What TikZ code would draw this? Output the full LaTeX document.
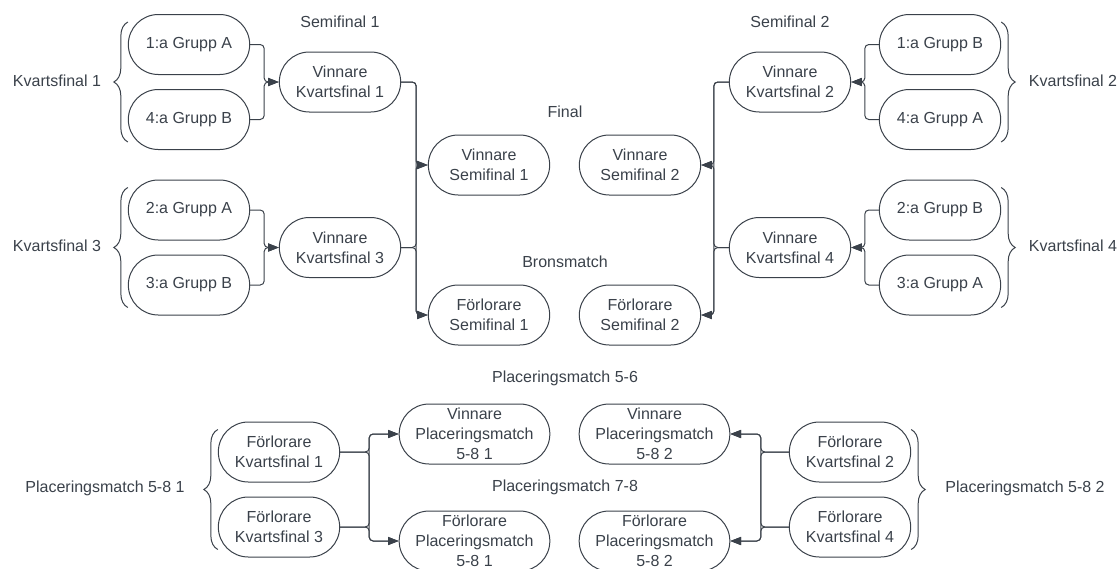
\documentclass[tikz,border=0pt]{standalone}
\usepackage{fontspec}
\setmainfont{Liberation Sans}
\usetikzlibrary{shapes,arrows.meta,decorations.pathreplacing}
\definecolor{ink}{HTML}{3A414A}

\begin{document}
\begin{tikzpicture}[x=0.75pt,y=-0.75pt]

\tikzstyle{match}=[rectangle,draw=ink,line width=0.75pt,rounded corners=22.5pt,minimum width=91pt,minimum height=45pt,inner sep=0pt,align=center,text=ink,font=\fontsize{12}{15}\selectfont]
\tikzstyle{wideMatch}=[match, minimum width=113pt];
\tikzstyle{title}=[text=ink,inner sep=0pt,font=\fontsize{12}{15}\selectfont];
\tikzstyle{link}=[draw=ink,line width=0.75pt,rounded corners=3pt,-{Triangle[length=8pt,width=6pt]}];
\tikzstyle{bracket}=[draw=ink,line width=0.75pt,decorate,decoration={brace,amplitude=10.5pt}];

\useasboundingbox (0,0) rectangle (1119,568);

%Titles
\node[title] (sf1) at (340,22) {Semifinal 1};
\node[title] (sf2) at (790,22) {Semifinal 2};
\node[title] (final) at (565,112) {Final};
\node[title] (brons) at (565,262) {Bronsmatch};
\node[title] (pm56) at (565,378) {Placeringsmatch 5-6};
\node[title] (pm78) at (565,487) {Placeringsmatch 7-8};
\node[title] (kf1) at (57,81) {Kvartsfinal 1};
\node[title] (kf3) at (57,246) {Kvartsfinal 3};
\node[title] (kf2) at (1073,81) {Kvartsfinal 2};
\node[title] (kf4) at (1073,246) {Kvartsfinal 4};
\node[title] (pm581) at (105,488) {Placeringsmatch 5-8 1};
\node[title] (pm582) at (1025,488) {Placeringsmatch 5-8 2};

%Left half
\node[match] (g1A) at (189,44.5) {1:a Grupp A};
\node[match] (g4B) at (189,119.5) {4:a Grupp B};
\node[match] (g2A) at (189,210) {2:a Grupp A};
\node[match] (g3B) at (189,285) {3:a Grupp B};

\node[match] (vkf1) at (340,82) {Vinnare\\Kvartsfinal 1};
\node[match] (vkf3) at (340,247.5) {Vinnare\\Kvartsfinal 3};

\node[match] (vs1) at (489,165) {Vinnare\\Semifinal 1};
\node[match] (fs1) at (489,315) {Förlorare\\Semifinal 1};

%Right half
\node[match] (g1B) at (940,44.5) {1:a Grupp B};
\node[match] (g4A) at (940,119.5) {4:a Grupp A};
\node[match] (g2B) at (940,210) {2:a Grupp B};
\node[match] (g3A) at (940,285) {3:a Grupp A};

\node[match] (vkf2) at (790,82) {Vinnare\\Kvartsfinal 2};
\node[match] (vkf4) at (790,247.5) {Vinnare\\Kvartsfinal 4};

\node[match] (vs2) at (640,165) {Vinnare\\Semifinal 2};
\node[match] (fs2) at (640,315) {Förlorare\\Semifinal 2};

%Placement matches
\node[match] (fkf1) at (279,452) {Förlorare\\Kvartsfinal 1};
\node[match] (fkf3) at (279,527) {Förlorare\\Kvartsfinal 3};
\node[wideMatch] (vp1) at (474.5,434) {Vinnare\\Placeringsmatch\\5-8 1};
\node[wideMatch] (fp1) at (474.5,541) {Förlorare\\Placeringsmatch\\5-8 1};

\node[match] (fkf2) at (850,452) {Förlorare\\Kvartsfinal 2};
\node[match] (fkf4) at (850,527) {Förlorare\\Kvartsfinal 4};
\node[wideMatch] (vp2) at (654.5,434) {Vinnare\\Placeringsmatch\\5-8 2};
\node[wideMatch] (fp2) at (654.5,541) {Förlorare\\Placeringsmatch\\5-8 2};

%Braces
\draw[bracket] ([yshift=6pt]g4B.south west) -- ([yshift=-6pt]g1A.north west);
\draw[bracket] ([yshift=6pt]g3B.south west) -- ([yshift=-6pt]g2A.north west);
\draw[bracket] ([yshift=-6pt]g1B.north east) -- ([yshift=6pt]g4A.south east);
\draw[bracket] ([yshift=-6pt]g2B.north east) -- ([yshift=6pt]g3A.south east);
\draw[bracket] ([yshift=6pt]fkf3.south west) -- ([yshift=-6pt]fkf1.north west);
\draw[bracket] ([yshift=-6pt]fkf2.north east) -- ([yshift=6pt]fkf4.south east);

%Quarter finals
\draw[link] (g1A.east) -- ++(14,0) |- (vkf1.west);
\draw[link] (g4B.east) -- ++(14,0) |- (vkf1.west);
\draw[link] (g2A.east) -- ++(14,0) |- (vkf3.west);
\draw[link] (g3B.east) -- ++(14,0) |- (vkf3.west);

\draw[link] (g1B.west) -- ++(-14,0) |- (vkf2.east);
\draw[link] (g4A.west) -- ++(-14,0) |- (vkf2.east);
\draw[link] (g2B.west) -- ++(-14,0) |- (vkf4.east);
\draw[link] (g3A.west) -- ++(-14,0) |- (vkf4.east);

%Semi finals
\draw[link] (vkf1.east) -- ++(15,0) |- (vs1.west);
\draw[link] (vkf1.east) -- ++(15,0) |- (fs1.west);
\draw[link] (vkf3.east) -- ++(15,0) |- (vs1.west);
\draw[link] (vkf3.east) -- ++(15,0) |- (fs1.west);

\draw[link] (vkf2.west) -- ++(-15,0) |- (vs2.east);
\draw[link] (vkf2.west) -- ++(-15,0) |- (fs2.east);
\draw[link] (vkf4.west) -- ++(-15,0) |- (vs2.east);
\draw[link] (vkf4.west) -- ++(-15,0) |- (fs2.east);

%Placement connections
\draw[link] (fkf1.east) -- ++(29,0) |- (vp1.west);
\draw[link] (fkf1.east) -- ++(29,0) |- (fp1.west);
\draw[link] (fkf3.east) -- ++(29,0) |- (vp1.west);
\draw[link] (fkf3.east) -- ++(29,0) |- (fp1.west);

\draw[link] (fkf2.west) -- ++(-28,0) |- (vp2.east);
\draw[link] (fkf2.west) -- ++(-28,0) |- (fp2.east);
\draw[link] (fkf4.west) -- ++(-28,0) |- (vp2.east);
\draw[link] (fkf4.west) -- ++(-28,0) |- (fp2.east);

\end{tikzpicture}
\end{document}
